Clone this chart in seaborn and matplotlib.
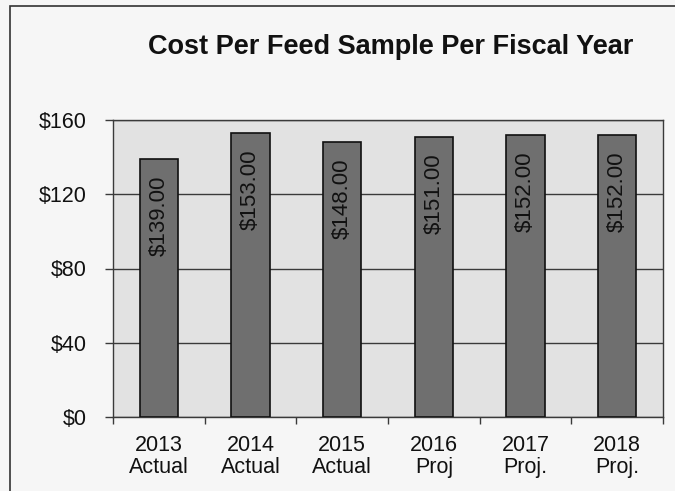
import matplotlib
matplotlib.use("Agg")
import matplotlib.pyplot as plt
import seaborn as sns
import pandas as pd
from matplotlib.patches import Rectangle

categories = ["2013\nActual", "2014\nActual", "2015\nActual", "2016\nProj", "2017\nProj.", "2018\nProj."]
values = [139, 153, 148, 151, 152, 152]
yticks = [0, 40, 80, 120, 160]
ytick_labels = ["$0", "$40", "$80", "$120", "$160"]
title = "Cost Per Feed Sample Per Fiscal Year"

sns.set_theme(style="white")
plt.rcParams['font.family'] = ['Liberation Sans', 'DejaVu Sans']

df = pd.DataFrame({"cat": categories, "val": values})

fig = plt.figure(figsize=(6.75, 4.91), dpi=100)
fig.patch.set_facecolor("#f6f6f6")
ax = fig.add_axes([113/675, 1 - 417/491, 550/675, 297/491])
ax.set_facecolor("#e2e2e2")

sns.barplot(data=df, x="cat", y="val", color="#6f6f6f", saturation=1,
            width=0.42, edgecolor="#111111", linewidth=1.2, ax=ax, zorder=3)

ax.set_ylim(0, 160)
ax.set_xlim(-0.5, len(categories) - 0.5)
ax.set_yticks(yticks)
ax.set_yticklabels(ytick_labels, fontsize=15.5, color="#111111")
ax.yaxis.grid(True, color="#3a3a3a", linewidth=1.0, zorder=1)
ax.set_axisbelow(True)
ax.tick_params(axis="y", length=6, width=1, color="#3a3a3a", pad=13, left=True)
ax.set_xticks(range(len(categories)))
ax.set_xticklabels(categories, fontsize=15.5, color="#111111", linespacing=1.05)
ax.tick_params(axis="x", which="major", length=0, pad=13)
ax.set_xticks([i - 0.5 for i in range(len(categories) + 1)], minor=True)
ax.tick_params(axis="x", which="minor", length=5, width=1, color="#3a3a3a", bottom=True)
ax.set_xlabel("")
ax.set_ylabel("")
for s in ax.spines.values():
    s.set_color("#3a3a3a")
    s.set_linewidth(1.0)

for i, v in enumerate(values):
    ax.annotate(f"${v:.2f}", xy=(i, v), xytext=(0, -12), textcoords="offset points",
                rotation=90, ha="center", va="top", fontsize=16, color="#111111", zorder=5)

fig.text(391/675, 1 - 47/491, title, ha="center", va="center", fontsize=19.5,
         fontweight="bold", color="#111111")

fig.patches.append(Rectangle((10/675, -0.1), 1.2, 1 - 6/491 + 0.1, transform=fig.transFigure,
                             fill=False, edgecolor="#333333", linewidth=1.2))

fig.savefig("out.png", dpi=100, facecolor=fig.get_facecolor())
